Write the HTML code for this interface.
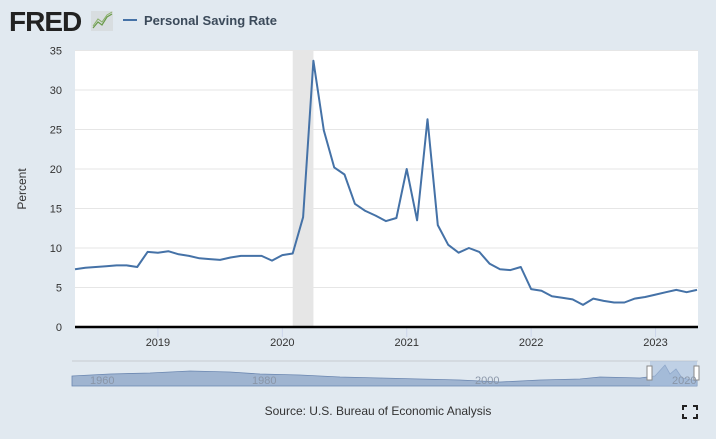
<!DOCTYPE html>
<html><head><meta charset="utf-8"><style>
body{margin:0;width:716px;height:439px;background:#e1e9f0;font-family:"Liberation Sans",sans-serif;overflow:hidden}
</style></head><body>
<svg width="716" height="439" style="position:absolute;left:0;top:0">
<text x="9" y="31" font-size="28" font-weight="bold" fill="#222" letter-spacing="-1" font-family="Liberation Sans">FRED</text>
<g><rect x="91" y="11" width="22" height="20" fill="#d8dde0"/><polyline points="93,28 98,22 102,25 107,17 112,14" fill="none" stroke="#6a9a4a" stroke-width="1.2"/><polyline points="93,26 98,19 102,22 107,15 112,12" fill="none" stroke="#8ab06a" stroke-width="1"/></g>
<line x1="123" y1="20" x2="137" y2="20" stroke="#4572a7" stroke-width="2"/>
<text x="144" y="25" font-size="13" font-weight="bold" fill="#3b4a5a">Personal Saving Rate</text>
<rect x="75" y="51" width="623" height="276" fill="#fff"/>
<g id="grid"></g>
<rect id="rec" fill="#e6e6e6"/>
<g id="yt"></g><g id="xt"></g>
<path id="line" fill="none" stroke="#4572a7" stroke-width="2" stroke-linejoin="round"/>
<line x1="75" y1="327" x2="698" y2="327" stroke="#000" stroke-width="2.5"/>
<text transform="translate(26,189) rotate(-90)" text-anchor="middle" font-size="12" fill="#333">Percent</text>
<g>
<line x1="72" y1="361" x2="698" y2="361" stroke="#c8ccd0"/>
<path d="M72,376 L110,374 L150,373 L190,371 L230,372 L260,374 L300,375 L340,377 L380,378 L420,379 L460,380 L500,382 L540,380 L580,379 L600,377 L640,378 L655,376 L665,365 L670,374 L676,369 L682,378 L697,381 L697,386 L72,386 Z" fill="#9fb4d0" stroke="#6a86b0" stroke-width="0.8"/>
<rect x="650" y="361" width="47" height="25" fill="#a8bfdd" opacity="0.6"/>
<rect x="647" y="366" width="5" height="14" fill="#fff" stroke="#888"/>
<rect x="694" y="366" width="5" height="14" fill="#fff" stroke="#888"/>
<text x="90" y="384" font-size="11" fill="#8a96a8">1960</text><text x="252" y="384" font-size="11" fill="#8a96a8">1980</text><text x="475" y="384" font-size="11" fill="#8a96a8">2000</text><text x="672" y="384" font-size="11" fill="#8a96a8">2020</text>
</g>
<text x="378" y="415" text-anchor="middle" font-size="12" fill="#333">Source: U.S. Bureau of Economic Analysis</text>
<g stroke="#222" stroke-width="2" fill="none"><path d="M683,410 v-4 h4 M693,406 h4 v4 M697,414 v4 h-4 M687,418 h-4 v-4"/></g>
</svg>
<script>
const values=[7.3,7.5,7.6,7.7,7.8,7.8,7.6,9.5,9.4,9.6,9.2,9.0,8.7,8.6,8.5,8.8,9.0,9.0,9.0,8.4,9.1,9.3,13.9,33.7,24.9,20.2,19.3,15.6,14.7,14.1,13.4,13.8,20.0,13.5,26.3,12.9,10.4,9.4,10.0,9.5,8.0,7.3,7.2,7.6,4.8,4.6,3.9,3.7,3.5,2.8,3.6,3.3,3.1,3.1,3.6,3.8,4.1,4.4,4.7,4.4,4.7];
const startYear=2018, startMonth=4; // May 2018 (0-based month)
const yTicks=[0,5,10,15,20,25,30,35];
const xTickYears=[2019,2020,2021,2022,2023];
const recession=[2020+1/12,2020+3/12];
const ns="http://www.w3.org/2000/svg";
const x0=75,x1=697,yb=327,yt=50.5,ymax=35;
const t0=startYear+startMonth/12, t1=t0+(values.length-1)/12;
const X=t=>x0+(t-t0)/(t1-t0)*(x1-x0);
const Y=v=>yb-v/ymax*(yb-yt);
const mk=(tag,a,p)=>{const e=document.createElementNS(ns,tag);for(const k in a)e.setAttribute(k,a[k]);p.appendChild(e);return e;};
const grid=document.getElementById('grid'),ytg=document.getElementById('yt'),xtg=document.getElementById('xt');
yTicks.forEach(v=>{
 if(v>0){const l=mk('line',{x1:75,x2:698,y1:Y(v),y2:Y(v),stroke:'#e6e6e6'},grid);
 
 }
 const t=mk('text',{x:62,y:Y(v)+4,'text-anchor':'end','font-size':11,fill:'#333'},ytg);t.textContent=v;
 
 
});
xTickYears.forEach(yr=>{
 const x=X(yr);
 const l=mk('line',{x1:x,x2:x,y1:327,y2:337,stroke:'#ccd6eb'},xtg);
 
 
 const t=mk('text',{x:x,y:346,'text-anchor':'middle','font-size':11,fill:'#333'},xtg);t.textContent=yr;
 
 
});
const r=document.getElementById('rec');
r.setAttribute('x',X(recession[0]));r.setAttribute('width',X(recession[1])-X(recession[0]));r.setAttribute('y',51);r.setAttribute('height',276);
document.getElementById('line').setAttribute('d',values.map((v,i)=>(i?'L':'M')+X(t0+i/12).toFixed(1)+','+Y(v).toFixed(1)).join(' '));
</script>
</body></html>
